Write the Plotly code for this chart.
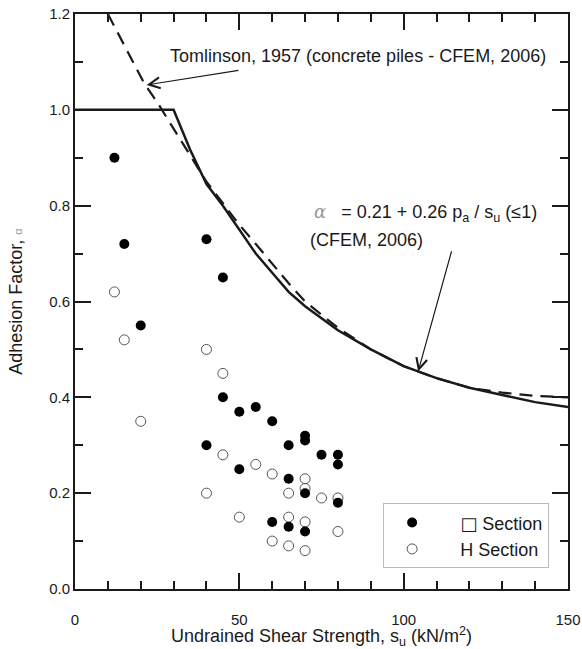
import plotly.graph_objects as go

# Measured adhesion factors: closed-section piles (filled) and H-section piles (open)
closed_su = [12, 15, 20, 40, 45, 45, 50, 55, 60, 40, 65, 70, 70, 75, 80, 80, 50, 65, 70, 80, 60, 65, 70]
closed_alpha = [0.90, 0.72, 0.55, 0.73, 0.65, 0.40, 0.37, 0.38, 0.35, 0.30, 0.30, 0.32, 0.31, 0.28,
                0.28, 0.26, 0.25, 0.23, 0.20, 0.18, 0.14, 0.13, 0.12]

h_su = [12, 15, 20, 40, 45, 45, 55, 60, 70, 40, 65, 70, 75, 80, 50, 65, 70, 80, 60, 65, 70]
h_alpha = [0.62, 0.52, 0.35, 0.50, 0.45, 0.28, 0.26, 0.24, 0.23, 0.20, 0.20, 0.21, 0.19, 0.19,
           0.15, 0.15, 0.14, 0.12, 0.10, 0.09, 0.08]

# CFEM (2006) design curve
cfem_su = [0, 30, 35, 40, 45, 50, 55, 60, 65, 70, 80, 90, 100, 110, 120, 130, 140, 150]
cfem_alpha = [1.0, 1.0, 0.917, 0.845, 0.80, 0.75, 0.70, 0.66, 0.62, 0.59, 0.54, 0.50, 0.465,
              0.44, 0.42, 0.405, 0.39, 0.38]

# Tomlinson (1957) curve for concrete piles
tom_su = [10, 15, 21, 25, 30, 35, 40, 45, 50, 55, 60, 65, 70, 80, 90, 100, 110, 120, 130, 140, 150]
tom_alpha = [1.2, 1.136, 1.056, 1.016, 0.96, 0.905, 0.85, 0.805, 0.76, 0.72, 0.678, 0.638, 0.60,
             0.545, 0.50, 0.465, 0.44, 0.42, 0.41, 0.403, 0.40]

# Axis ticks
x_ticks = [0, 50, 100, 150]
y_ticks = [0.0, 0.2, 0.4, 0.6, 0.8, 1.0, 1.2]

FONT = "Liberation Sans, Arial, sans-serif"
INK = "#1a1a1a"

fig = go.Figure()

fig.add_trace(go.Scatter(
    x=tom_su, y=tom_alpha, mode="lines", showlegend=False,
    line=dict(color=INK, width=2.2, dash="13px,8px"), hoverinfo="skip"))
fig.add_trace(go.Scatter(
    x=cfem_su, y=cfem_alpha, mode="lines", showlegend=False,
    line=dict(color=INK, width=2.5), hoverinfo="skip"))

fig.add_trace(go.Scatter(
    x=h_su, y=h_alpha, mode="markers", name="\u00a0\u00a0\u00a0\u00a0H Section", legendrank=2,
    marker=dict(symbol="circle-open", size=10, color="#555555", line=dict(width=1, color="#555555"))))
fig.add_trace(go.Scatter(
    x=closed_su, y=closed_alpha, mode="markers",
    name="\u00a0\u00a0\u00a0\u00a0<span style='font-family:DejaVu Sans;color:#1a1a1a'>\u25a1</span> Section",
    legendrank=1, marker=dict(symbol="circle", size=10, color="#000000")))

fig.update_layout(
    xaxis=dict(
        range=[0, 150], tickmode="array", tickvals=x_ticks, ticktext=[str(v) for v in x_ticks],
        ticks="inside", ticklen=16, tickwidth=1.5, tickcolor=INK,
        minor=dict(dtick=10, tick0=0, ticks="inside", ticklen=8, tickwidth=1.5, tickcolor=INK, showgrid=False),
        showline=True, linewidth=1.8, linecolor=INK, mirror="ticks",
        showgrid=False, zeroline=False, ticklabelstandoff=16, automargin=False,
        tickfont=dict(family=FONT, size=15, color=INK),
        title=dict(text="Undrained Shear Strength, s<sub>u</sub> (kN/m<sup>2</sup>)",
                   font=dict(family=FONT, size=18, color=INK), standoff=3),
    ),
    yaxis=dict(
        range=[0, 1.2], tickmode="array", tickvals=y_ticks, ticktext=[f"{v:.1f}" for v in y_ticks],
        ticks="inside", ticklen=16, tickwidth=1.5, tickcolor=INK,
        minor=dict(dtick=0.1, tick0=0, ticks="inside", ticklen=8, tickwidth=1.5, tickcolor=INK, showgrid=False),
        showline=True, linewidth=1.8, linecolor=INK, mirror="ticks",
        showgrid=False, zeroline=False, automargin=False,
        tickfont=dict(family=FONT, size=15, color=INK),
        title=dict(text="Adhesion Factor, <span style='font-size:11px;color:#999999'>\u03b1</span>",
                   font=dict(family=FONT, size=18, color=INK), standoff=22),
    ),
)

# Curve labels with leader arrows
fig.add_annotation(x=28.3, y=1.113, xref="x", yref="y", xanchor="left", yanchor="middle",
                   text="Tomlinson, 1957 (concrete piles - CFEM, 2006)", showarrow=False,
                   font=dict(family=FONT, size=18, color=INK))
fig.add_annotation(x=21.8, y=1.052, ax=50.2, ay=1.083, xref="x", yref="y", axref="x", ayref="y",
                   text="", showarrow=True, arrowhead=5, arrowsize=1.8, arrowwidth=1.2, arrowcolor=INK)

fig.add_annotation(x=72.1, y=0.785, xref="x", yref="y", xanchor="left", yanchor="middle",
                   text="<span style='color:#999999;font-family:DejaVu Serif'><i>\u03b1</i></span>"
                        "\u00a0\u00a0 = 0.21 + 0.26 p<sub>a</sub> / s<sub>u</sub> (\u22641)",
                   showarrow=False, font=dict(family=FONT, size=18, color=INK))
fig.add_annotation(x=70.9, y=0.729, xref="x", yref="y", xanchor="left", yanchor="middle",
                   text="(CFEM, 2006)", showarrow=False, font=dict(family=FONT, size=18, color=INK))
fig.add_annotation(x=104.4, y=0.454, ax=114.7, ay=0.708, xref="x", yref="y", axref="x", ayref="y",
                   text="", showarrow=True, arrowhead=5, arrowsize=1.8, arrowwidth=1.2, arrowcolor=INK)

fig.update_layout(
    width=582, height=649,
    margin=dict(l=75, r=14, t=14, b=60, autoexpand=False),
    paper_bgcolor="white", plot_bgcolor="white",
    legend=dict(x=0.625, y=0.036, xanchor="left", yanchor="bottom",
                bgcolor="white", bordercolor="#bbbbbb", borderwidth=1,
                font=dict(family=FONT, size=18, color=INK), itemwidth=46),
    font=dict(family=FONT, color=INK),
)

fig.write_html("out.html")
